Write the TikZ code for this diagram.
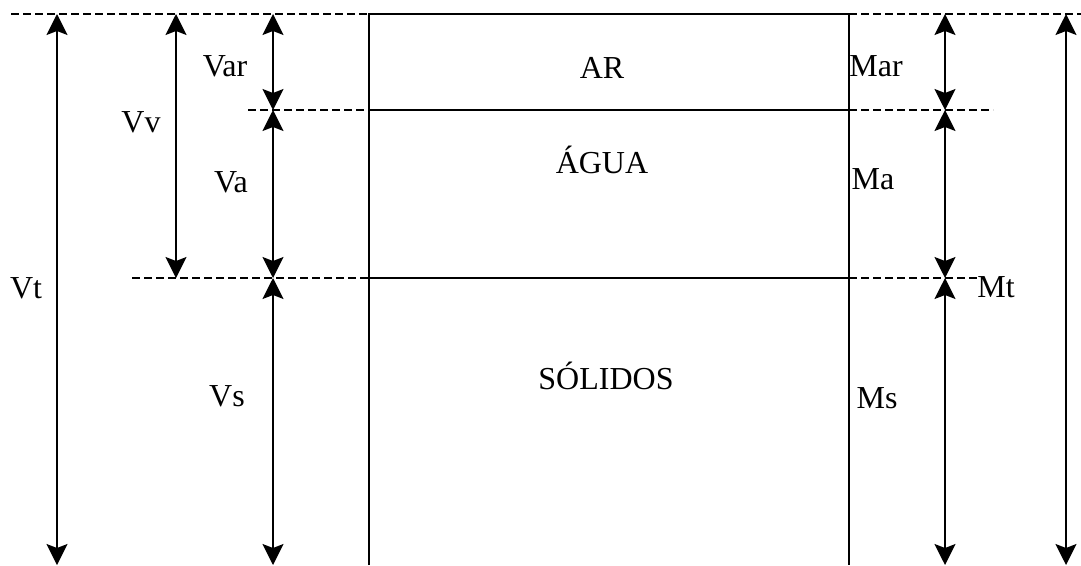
\documentclass[tikz,border=0pt]{standalone}
\usepackage{fontspec}
\setmainfont{Liberation Serif}
\usetikzlibrary{arrows.meta}
\begin{document}
\begin{tikzpicture}[x=1pt,y=-1pt,
  solidline/.style={line width=1.6pt},
  dashline/.style={line width=1.4pt, dash pattern=on 8pt off 4pt},
  dim/.style={line width=1.6pt, {Stealth[length=21pt,width=21pt,inset=4pt]}-{Stealth[length=21pt,width=21pt,inset=4pt]}},
  lbl/.style={font=\fontsize{32}{36}\selectfont, inner sep=0pt}]
\useasboundingbox (0,0) rectangle (1081,565);
% box corners
\coordinate (BL0) at (369,14);
\coordinate (BR0) at (849,14);
\coordinate (BL1) at (369,110);
\coordinate (BR1) at (849,110);
\coordinate (BL2) at (369,278);
\coordinate (BR2) at (849,278);
\coordinate (BL3) at (369,565);
\coordinate (BR3) at (849,565);
% box
\draw[solidline] (BL3) -- (BL0) -- (BR0) -- (BR3);
\draw[solidline] (BL1) -- (BR1);
\draw[solidline] (BL2) -- (BR2);
% dashed extension lines
\coordinate (D0l) at (11,14);
\coordinate (D0r) at (1081,14);
\coordinate (D1l) at (248,110);
\coordinate (D1r) at (993,110);
\coordinate (D2l) at (132,278);
\coordinate (D2r) at (978,278);
\draw[dashline] (D0l) -- (BL0);
\draw[dashline] (BR0) -- (D0r);
\draw[dashline] (D1l) -- (BL1);
\draw[dashline] (BR1) -- (D1r);
\draw[dashline] (D2l) -- (BL2);
\draw[dashline] (BR2) -- (D2r);
% dimension end points
\coordinate (Vt0) at (57,14);   \coordinate (Vt1) at (57,565);
\coordinate (Vv0) at (176,14);  \coordinate (Vv1) at (176,278);
\coordinate (V0) at (273,14);   \coordinate (V1) at (273,110);
\coordinate (V2) at (273,278);  \coordinate (V3) at (273,565);
\coordinate (M0) at (945,14);   \coordinate (M1) at (945,110);
\coordinate (M2) at (945,278);  \coordinate (M3) at (945,565);
\coordinate (Mt0) at (1066,14); \coordinate (Mt1) at (1066,565);
\draw[dim] (Vt0) -- (Vt1);
\draw[dim] (Vv0) -- (Vv1);
\draw[dim] (V0) -- (V1);
\draw[dim] (V1) -- (V2);
\draw[dim] (V2) -- (V3);
\draw[dim] (M0) -- (M1);
\draw[dim] (M1) -- (M2);
\draw[dim] (M2) -- (M3);
\draw[dim] (Mt0) -- (Mt1);
% labels
\node[lbl] (var) at (225,66) {Var};
\node[lbl] (vv) at (141,122) {Vv};
\node[lbl] (va) at (231,182) {Va};
\node[lbl] (vt) at (26,288) {Vt};
\node[lbl] (vs) at (227,396) {Vs};
\node[lbl] (ar) at (602,68) {AR};
\node[lbl] (agua) at (602,160) {ÁGUA};
\node[lbl] (sol) at (606,376) {SÓLIDOS};
\node[lbl] (mar) at (876,66) {Mar};
\node[lbl] (ma) at (873,179) {Ma};
\node[lbl] (mt) at (996,287) {Mt};
\node[lbl] (ms) at (877,398) {Ms};
\end{tikzpicture}
\end{document}
